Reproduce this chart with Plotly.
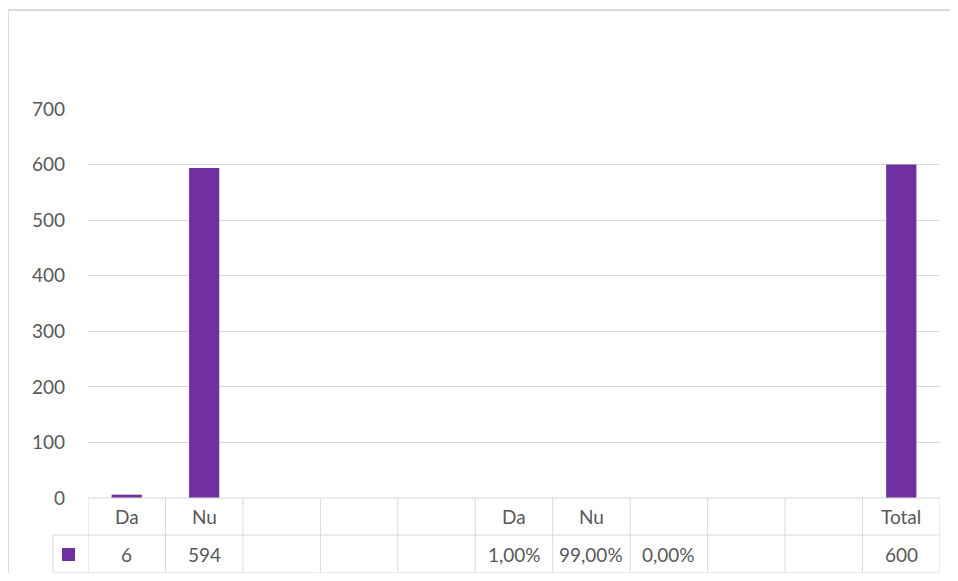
import plotly.graph_objects as go

categories = ["Da", "Nu", "", "", "", "Da", "Nu", "", "", "", "Total"]
values = [6, 594, None, None, None, 0.01, 0.99, 0.0, None, None, 600]
is_percent = [False, False, False, False, False, True, True, True, False, False, False]
y_ticks = [0, 100, 200, 300, 400, 500, 600, 700]

OFF = 8  # page body margin
W, H = 958 - 2 * OFF, 581 - 2 * OFF
L, R, T, B = 88 - OFF, 940 - OFF, 109 - OFF, 498 - OFF
pw, ph = R - L, B - T

BAR = "#7030A0"
GRID = "#D9D9D9"
TXT = "#595959"
FONT = "Lato"
FS = 19

def px_x(x):
    return (x - OFF - L) / pw

def px_y(y):
    return (B - (y - OFF)) / ph

def fmt(v, pct):
    if v is None:
        return ""
    if pct:
        return f"{v*100:.2f}%".replace(".", ",")
    return f"{v:g}"

xs = list(range(len(categories)))
bar_y = [None if (v is None or p) else v for v, p in zip(values, is_percent)]
fig = go.Figure()
fig.add_trace(go.Bar(
    x=xs, y=bar_y,
    marker=dict(color=BAR, line=dict(width=0)),
    width=0.39, hoverinfo="skip", showlegend=False,
))

shapes = []
shapes.append(dict(type="rect", xref="paper", yref="paper",
                   x0=px_x(8), x1=px_x(1000), y0=px_y(640), y1=px_y(10),
                   line=dict(color=GRID, width=2), layer="below"))
row1 = 535
row2 = 573
shapes.append(dict(type="line", xref="x", yref="paper", x0=-0.5, x1=len(xs) - 0.5,
                   y0=0, y1=0, line=dict(color=GRID, width=1)))
for yy in (row1, row2):
    shapes.append(dict(type="line", xref="paper", yref="paper", x0=px_x(53), x1=1,
                       y0=px_y(yy), y1=px_y(yy), line=dict(color=GRID, width=1)))
for i in range(len(xs) + 1):
    shapes.append(dict(type="line", xref="x", yref="paper", x0=i - 0.5, x1=i - 0.5,
                       y0=0, y1=px_y(row2), line=dict(color=GRID, width=1)))
shapes.append(dict(type="line", xref="paper", yref="paper", x0=px_x(53), x1=px_x(53),
                   y0=px_y(row1), y1=px_y(row2), line=dict(color=GRID, width=1)))
shapes.append(dict(type="rect", xref="paper", yref="paper",
                   x0=px_x(62), x1=px_x(75), y0=px_y(561), y1=px_y(548),
                   fillcolor=BAR, line=dict(width=0)))

annotations = []
for i, c in enumerate(categories):
    if c:
        annotations.append(dict(x=i, y=px_y((498 + row1) / 2), xref="x", yref="paper",
                                text=c, showarrow=False, xanchor="center", yanchor="middle",
                                font=dict(family=FONT, size=FS, color=TXT)))
    lab = fmt(values[i], is_percent[i])
    if lab:
        annotations.append(dict(x=i, y=px_y((row1 + row2) / 2), xref="x", yref="paper",
                                text=lab, showarrow=False, xanchor="center", yanchor="middle",
                                font=dict(family=FONT, size=FS, color=TXT)))

fig.update_layout(
    width=W, height=H,
    margin=dict(l=L, r=W - R, t=T, b=H - B),
    paper_bgcolor="white", plot_bgcolor="white",
    shapes=shapes, annotations=annotations,
    xaxis=dict(range=[-0.5, len(xs) - 0.5], showticklabels=False, showgrid=False,
               zeroline=False, showline=False, ticks=""),
    yaxis=dict(range=[0, 700], tickvals=y_ticks, showgrid=True, gridcolor=GRID, gridwidth=1,
               zeroline=False, showline=False, ticks="", ticklabelstandoff=22,
               tickfont=dict(family=FONT, size=FS, color=TXT)),
    bargap=0.6,
)

fig.write_html("out.html")
